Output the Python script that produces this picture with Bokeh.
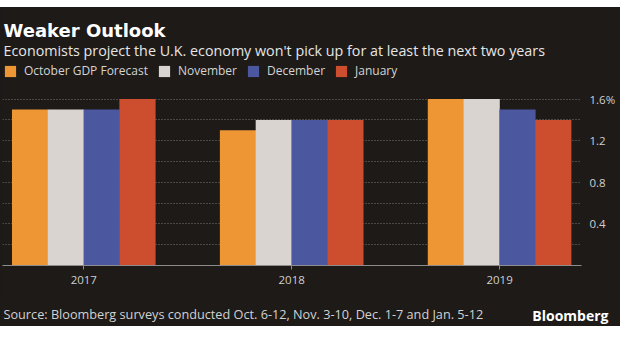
from bokeh.plotting import figure
from bokeh.layouts import column
from bokeh.models import Range1d, FixedTicker, Label, Legend, LegendItem, Spacer, GlobalInlineStyleSheet
from bokeh.embed import file_html
from bokeh.resources import INLINE

# ---------------- data ----------------
years = ["2017", "2018", "2019"]
series = ["October GDP Forecast", "November", "December", "January"]
october = [1.5, 1.3, 1.6]
november = [1.5, 1.4, 1.6]
december = [1.5, 1.4, 1.5]
january = [1.6, 1.4, 1.4]
y_ticks = [0.4, 0.8, 1.2, 1.6]
y_tick_labels = ["0.4", "0.8", "1.2", "1.6%"]
grid_ticks = [0.2, 0.4, 0.6, 0.8, 1.0, 1.2, 1.4, 1.6]

title = "Weaker Outlook"
subtitle = "Economists project the U.K. economy won't pick up for at least the next two years"
source = "Source: Bloomberg surveys conducted Oct. 6-12, Nov. 3-10, Dec. 1-7 and Jan. 5-12"
brand = "Bloomberg"

# ---------------- style ----------------
colors = ["#EE9634", "#D9D4D0", "#4B58A0", "#CD4D2F"]
BG = "#1d1a18"
LABEL_C = "#cfcfcf"
FONT = "Open Sans"

# main chart: frame reaches the top of the canvas so title/legend sit inside it
p = figure(width=620, height=291, output_backend="svg", toolbar_location=None,
           x_range=Range1d(-0.391, 2.394), y_range=Range1d(0, 2.4808),
           y_axis_location="right",
           min_border_left=2, min_border_right=39, min_border_top=0, min_border_bottom=33,
           background_fill_color=BG, border_fill_color=BG, outline_line_color=None)
p.outline_line_color = None

bw = 0.1722
xs = list(range(len(years)))
renderers = []
for k, (vals, col) in enumerate(zip([october, november, december, january], colors)):
    off = (k - 1.5) * bw
    r = p.vbar(x=[x + off for x in xs], top=vals, bottom=0, width=bw + 0.002,
               fill_color=col, line_color=None)
    renderers.append(r)

# x axis (baseline with small ticks)
xa = p.xaxis[0]
xa.ticker = FixedTicker(ticks=xs)
xa.major_label_overrides = {i: y for i, y in enumerate(years)}
xa.axis_line_color = "#8c8c8c"
xa.major_tick_line_color = "#8c8c8c"
xa.major_tick_in = 0
xa.major_tick_out = 4
xa.minor_tick_line_color = None
xa.major_label_standoff = 6
xa.major_label_text_font = FONT
xa.major_label_text_font_size = "11.5px"
xa.major_label_text_color = LABEL_C

# y axis on the right
ya = p.yaxis[0]
ya.ticker = FixedTicker(ticks=y_ticks)
ya.major_label_overrides = dict(zip(y_ticks, y_tick_labels))
ya.axis_line_color = None
ya.major_tick_line_color = None
ya.minor_tick_line_color = None
ya.major_label_standoff = 2
ya.major_label_text_font = FONT
ya.major_label_text_font_size = "11.5px"
ya.major_label_text_color = LABEL_C

p.xgrid.visible = False
p.ygrid.ticker = FixedTicker(ticks=grid_ticks)
p.ygrid.grid_line_color = "#767676"
p.ygrid.grid_line_dash = "1 2"

legend = Legend(items=[LegendItem(label=s, renderers=[r]) for s, r in zip(series, renderers)],
                orientation="horizontal", location=(1, 186),
                glyph_width=14, glyph_height=14, label_standoff=7, spacing=9,
                padding=0, margin=0, border_line_color=None, background_fill_alpha=0,
                label_text_font=FONT, label_text_font_size="12px",
                label_text_color="#d4d4d4", label_height=14)
p.add_layout(legend)


def slabel(text, x, y, **kw):
    return Label(x=x, y=y, x_units="screen", y_units="screen", text=text,
                 text_baseline="alphabetic", **kw)


p.add_layout(slabel(title, 1, 235, text_font="DejaVu Sans", text_font_style="bold",
                    text_font_size="18px", text_color="#ffffff"))
p.add_layout(slabel(subtitle, 1, 215, text_font=FONT, text_font_size="14.3px",
                    text_color="#e6e6e6"))

# footer strip with the source note and the brand
f = figure(width=620, height=28, output_backend="svg", toolbar_location=None,
           x_range=Range1d(0, 1), y_range=Range1d(0, 1),
           x_axis_type=None, y_axis_type=None,
           min_border_left=0, min_border_right=0, min_border_top=0, min_border_bottom=0,
           background_fill_color=BG, border_fill_color=BG, outline_line_color=None)
f.frame_align = False
f.xgrid.visible = False
f.ygrid.visible = False
f.add_layout(slabel(source, 3, 13, text_font=FONT, text_font_size="12.7px",
                    text_color="#d2d2d2"))
f.add_layout(slabel(brand, 608, 11, text_font=FONT, text_font_style="bold",
                    text_font_size="14px", text_color="#ffffff", text_align="right"))

top_band = Spacer(width=620, height=7, styles={"background-color": "#ffffff"})
bottom_band = Spacer(width=620, height=29, styles={"background-color": "#ffffff"})

layout = column(top_band, p, f, bottom_band, spacing=0)
layout.styles = {"background-color": BG}
layout.stylesheets = [GlobalInlineStyleSheet(css="body { background-color: %s; margin: 0; }" % BG)]

open("out.html", "w").write(file_html(layout, INLINE))
